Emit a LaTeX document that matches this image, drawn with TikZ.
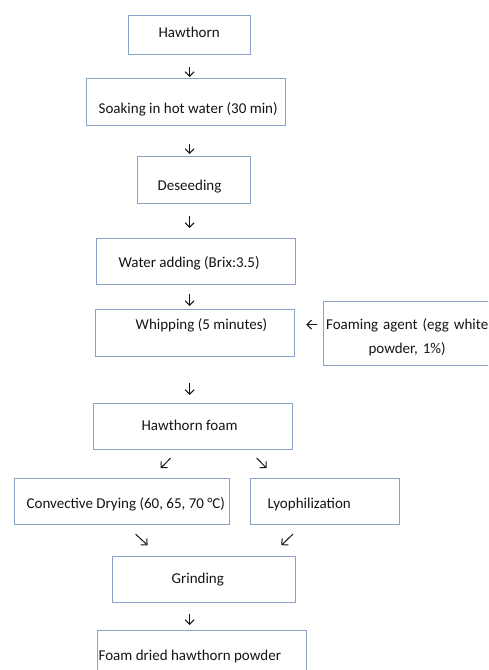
\documentclass[tikz,border=0pt]{standalone}
\usepackage{fontspec}
\setmainfont{Carlito}
\usetikzlibrary{positioning, arrows.meta}

\definecolor{boxline}{RGB}{136,162,200}
\definecolor{inkcol}{RGB}{20,20,20}

\tikzset{
  stepbox/.style={draw=boxline, line width=1.3pt, inner sep=0pt, anchor=north west,
    text=inkcol, font=\fontsize{15}{18}\selectfont},
  flow/.style={-{Straight Barb[length=4.5pt, width=9pt]}, draw=inkcol, line width=1pt}
}
% box content: width, left pad, text
\newcommand{\steptext}[3]{\makebox[#1][l]{\hspace*{#2}#3}}

\begin{document}
\begin{tikzpicture}[x=1pt, y=-1pt]

\useasboundingbox (0,0) rectangle (488,670);
\clip (0,0) rectangle (488,670);

\node[stepbox, text height=22pt, text depth=17pt] at (128,15) (hawthorn) {\steptext{122pt}{30pt}{Hawthorn}};
\node[stepbox, text height=35pt, text depth=12pt] at (86,78) (soak) {\steptext{199pt}{12pt}{Soaking in hot water (30 min)}};
\node[stepbox, text height=34pt, text depth=13pt] at (137,156) (deseed) {\steptext{113pt}{20pt}{Deseeding}};
\node[stepbox, text height=29pt, text depth=17pt] at (96,238) (water) {\steptext{199pt}{22pt}{Water adding (Brix:3.5)}};
\node[stepbox, text height=20pt, text depth=27pt] at (95,309) (whip) {\steptext{199pt}{40pt}{Whipping (5 minutes)}};
\node[stepbox, text width=167pt, text height=28pt, text depth=36pt, align=center,
      font=\fontsize{15}{24}\selectfont] at (323,301) (agent) {Foaming agent (egg white\\powder, 1\%)};
\node[stepbox, text height=27pt, text depth=19pt] at (93,403) (foam) {\steptext{199pt}{48pt}{Hawthorn foam}};
\node[stepbox, text height=30pt, text depth=16pt] at (14,478) (conv) {\steptext{215pt}{12pt}{Convective Drying (60, 65, 70 °C)}};
\node[stepbox, text height=30pt, text depth=16pt] at (250,478) (lyo) {\steptext{149pt}{17pt}{Lyophilization}};
\node[stepbox, text height=27pt, text depth=19pt] at (112,556) (grind) {\steptext{183pt}{59pt}{Grinding}};
\node[stepbox, text height=30pt, text depth=30pt] at (97,630) (powder) {\steptext{209pt}{1pt}{Foam dried hawthorn powder}};

% main line
\draw [flow, shorten <=12pt, shorten >=1pt] (hawthorn.south) to (hawthorn.south |- soak.north);
\draw [flow, shorten <=18pt, shorten >=2pt] (soak.south -| hawthorn) to (deseed.north -| hawthorn);
\draw [flow, shorten <=12pt, shorten >=10pt] (deseed.south -| hawthorn) to (water.north -| hawthorn);
\draw [flow, shorten <=9pt, shorten >=3pt] (water.south -| hawthorn) to (whip.north -| hawthorn);
\draw [flow, shorten <=26pt, shorten >=8pt] (whip.south -| hawthorn) to (foam.north -| hawthorn);
\draw [flow, shorten <=11pt, shorten >=5pt] (grind.south -| hawthorn) to (powder.north -| hawthorn);

% foaming agent
\draw [flow, shorten <=6pt, shorten >=11pt] ([yshift=9pt]agent.west) to ([yshift=8.5pt]whip.east);

% drying
\draw [flow, shorten <=10.9pt, shorten >=13.7pt] ([xshift=-15pt]foam.south) to ([xshift=29pt]conv.north);
\draw [flow, shorten <=10.9pt, shorten >=13.7pt] ([xshift=56pt]foam.south) to ([xshift=-49pt]lyo.north);
\draw [flow, shorten <=12.9pt, shorten >=15.8pt] ([xshift=4pt]conv.south) to ([xshift=-45pt]grind.north);
\draw [flow, shorten <=12.7pt, shorten >=15.6pt] ([xshift=-23pt]lyo.south) to ([xshift=66pt]grind.north);

\end{tikzpicture}
\end{document}
